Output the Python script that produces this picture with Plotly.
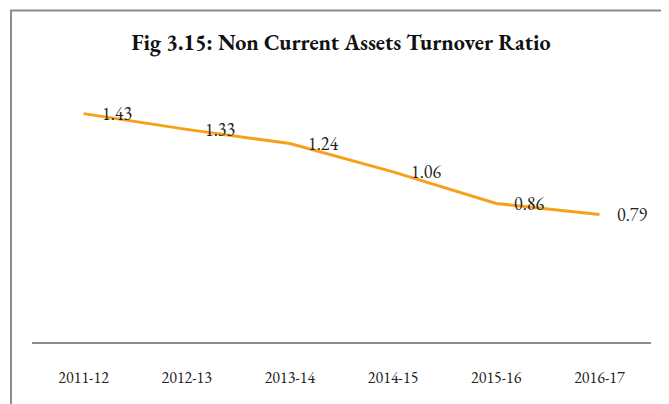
import plotly.graph_objects as go

categories = ["2011-12", "2012-13", "2013-14", "2014-15", "2015-16", "2016-17"]
ratio = [1.43, 1.33, 1.24, 1.06, 0.86, 0.79]
title_text = "Fig 3.15: Non Current Assets Turnover Ratio"

SERIF = "Garamond, 'EB Garamond', 'Liberation Serif', 'DejaVu Serif', serif"

# page body has an 8px margin, so the layout is designed 8px up/left
OFF = 8
L, R_EDGE, T, AX = 32 - OFF, 651 - OFF, 90 - OFF, 342 - OFF
PW, PH = R_EDGE - L, AX - T

fig = go.Figure()
fig.add_trace(go.Scatter(
    x=categories, y=ratio, mode="lines",
    line=dict(color="#F7A11A", width=3),
    hoverinfo="skip", showlegend=False,
))
for c, v in zip(categories, ratio):
    fig.add_annotation(x=c, y=v, text=f"{v:.2f}", showarrow=False,
                       xanchor="left", yanchor="middle", xshift=16, yshift=0,
                       font=dict(family=SERIF, size=18, color="#222"))

# outer chart frame
fig.add_shape(type="rect", xref="paper", yref="paper",
              x0=(11 - OFF - L) / PW, x1=(700 - L) / PW,
              y0=(AX - 440) / PH, y1=(AX - (10.5 - OFF)) / PH,
              line=dict(color="#8c8c8c", width=2), layer="below")

fig.update_layout(
    width=669, height=404,
    margin=dict(l=L, r=669 - R_EDGE, t=T, b=404 - AX),
    paper_bgcolor="white", plot_bgcolor="white",
    title=dict(text=f"<b>{title_text}</b>", x=(341 - OFF) / 669, xanchor="center",
               y=1 - (42 - OFF) / 404, yanchor="middle",
               font=dict(family=SERIF, size=22, color="#111")),
    xaxis=dict(type="category", range=[-0.5, 5.5], showgrid=False,
               showline=True, linecolor="#8c8c8c", linewidth=2,
               ticks="", ticklabelstandoff=20,
               tickfont=dict(family=SERIF, size=16, color="#222"),
               zeroline=False, fixedrange=True),
    yaxis=dict(range=[-0.02, 1.58], visible=False, showgrid=False, zeroline=False),
)

fig.write_html("out.html")
